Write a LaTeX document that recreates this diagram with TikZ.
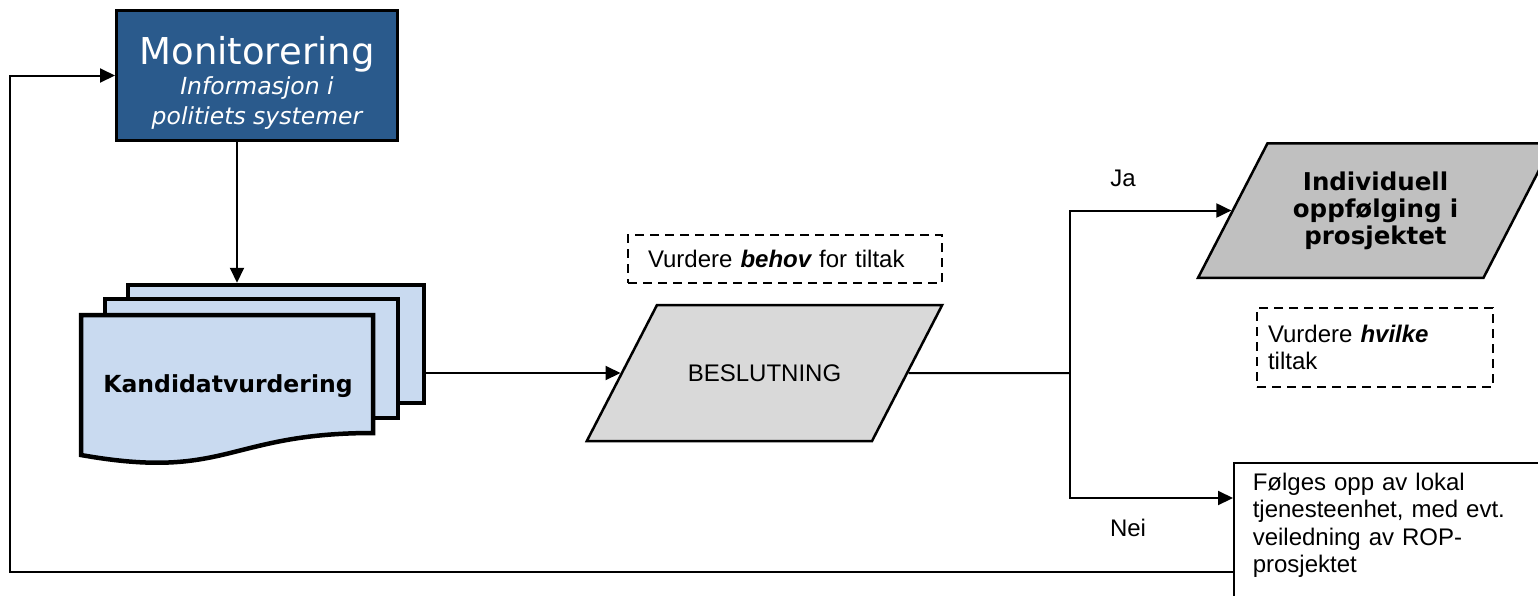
\documentclass[tikz,border=0pt]{standalone}
\usepackage{fontspec}
\setmainfont{Liberation Sans}
\newfontfamily\verd{DejaVu Sans}
\usetikzlibrary{shapes.geometric,arrows.meta}
\definecolor{monblue}{HTML}{2A5A8C}
\definecolor{docblue}{HTML}{C9DAF0}
\definecolor{lightgrey}{HTML}{D9D9D9}
\definecolor{midgrey}{HTML}{C0C0C0}
\tikzset{
    arr/.style={-{Triangle[length=15pt,width=14pt]},line width=2pt},
    link/.style={line width=2pt},
    page/.style={rectangle,draw,fill=docblue,line width=4.5pt},
    slanted/.style={trapezium,trapezium left angle=62.7,trapezium right angle=117.3,
        draw,line width=2.5pt,align=center,inner xsep=0pt},
    note/.style={rectangle,draw,dash pattern=on 9pt off 6pt,line width=2pt,align=left,
        font=\fontsize{24}{27}\selectfont}
}
\begin{document}
\begin{tikzpicture}[x=1pt,y=-1pt]
        \useasboundingbox (0,0) rectangle (1538,595);
        % monitoring box
        \node[rectangle,draw,fill=monblue,line width=3pt,text=white,align=center,
            minimum width=281,minimum height=130,inner sep=0pt,
            font=\verd\fontsize{23.5}{30}\selectfont] (mon) at (257,75.5)
            {\rule{0pt}{42pt}{\fontsize{37}{40}\selectfont Monitorering}\\ \itshape Informasjon i\\ \itshape politiets systemer};
        % stack of documents
        \node[page,minimum width=296,minimum height=118] (kback) at (276,344) {};
        \node[page,minimum width=293,minimum height=119] (kmid) at (251.5,358.5) {};
        \draw[fill=docblue,line width=4.5pt,line join=miter]
            (81,315) -- (373,315) -- (373,433) .. controls (227,433) and (227,481) .. (81,455) -- cycle;
        \node[font=\verd\bfseries\fontsize{23.5}{27}\selectfont] (kand) at (228,386) {Kandidatvurdering};
        % decision
        \node[note,minimum width=314,minimum height=48,text width=274,inner xsep=20pt] (behov) at (785,259)
            {Vurdere {\bfseries\itshape behov} for tiltak};
        \node[slanted,fill=lightgrey,text width=215pt,text height=76.6pt,text depth=59.4pt,inner ysep=0pt,
            font=\fontsize{24}{27}\selectfont] (beslut) at (764.5,373) {BESLUTNING};
        \coordinate (split) at (1070,373);
        % outcomes
        \node[slanted,fill=midgrey,text width=216pt,inner ysep=28.3pt,
            font=\verd\bfseries\fontsize{24.5}{27}\selectfont] (indiv) at (1375.5,210.5)
            {Individuell\\ oppfølging i\\ prosjektet};
        \node[note,minimum width=236,minimum height=79,text width=214,inner xsep=11pt] (hvilke) at (1375,347.5)
            {Vurdere {\bfseries\itshape hvilke}\\ tiltak};
        \node[rectangle,draw,line width=1.5pt,anchor=north west,align=left,text width=290,
            inner xsep=19pt,inner ysep=10pt,
            font=\fontsize{24}{27.5}\selectfont] (folg) at (1233,462)
            {Følges opp av lokal\\ tjenesteenhet, med evt.\\ veiledning av ROP-\\ prosjektet\rule[-60pt]{0pt}{60pt}};
        \node[font=\fontsize{24}{27}\selectfont] (ja) at (1123,178) {Ja};
        \node[font=\fontsize{24}{27}\selectfont] (nei) at (1128,528) {Nei};
        % connectors
        \draw[arr] ([xshift=-20pt]mon.south) -- ([xshift=-20pt]mon.south |- kback.north);
        \draw[arr] (kback.east |- beslut.west) -- (beslut.west);
        \draw[link] (beslut.east) -- (split);
        \draw[arr] (split) |- (indiv.west);
        \draw[arr] (split) |- ([yshift=-36pt]folg.north west);
        \coordinate (ret) at (10,572);
        \draw[arr] (folg.west |- ret) -- (ret) |- (mon.west);
    \end{tikzpicture}
\end{document}
